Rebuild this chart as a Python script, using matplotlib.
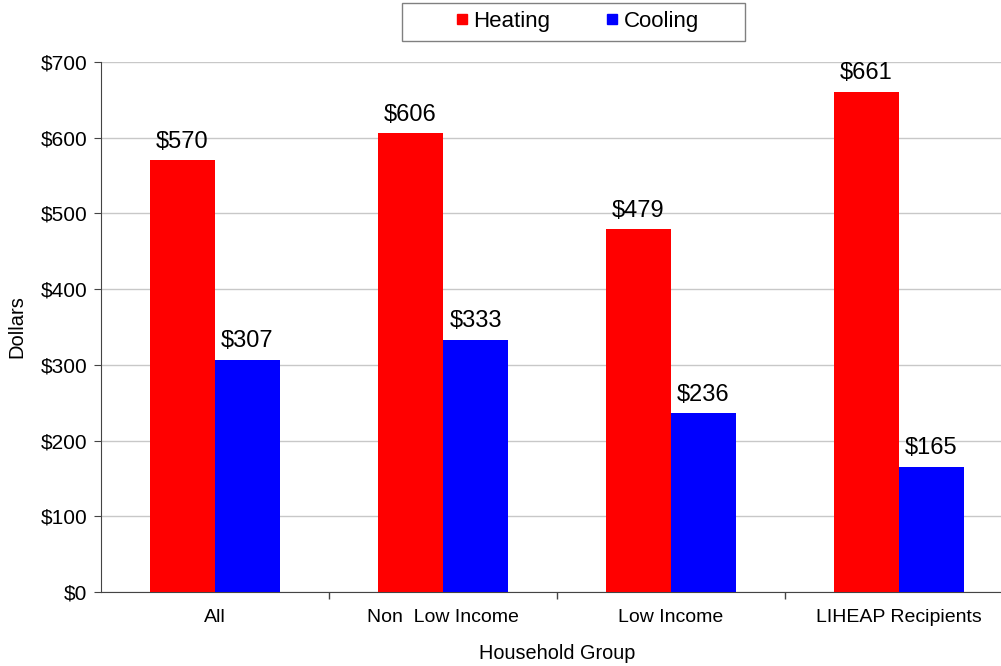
import matplotlib
matplotlib.use("Agg")
import matplotlib.pyplot as plt
import numpy as np
from matplotlib.lines import Line2D
from matplotlib.patches import Rectangle

plt.rcParams['font.family'] = ['Liberation Sans', 'DejaVu Sans']

groups = ["All", "Non  Low Income", "Low Income", "LIHEAP Recipients"]
heating = [570, 606, 479, 661]
cooling = [307, 333, 236, 165]
yticks = [0, 100, 200, 300, 400, 500, 600, 700]

W, H = 1001, 666
fig = plt.figure(figsize=(W/100, H/100), dpi=100)
ax = fig.add_axes([101/W, 1-592/H, 912/W, 530/H])

x = np.arange(len(groups))
bw = 0.285
ax.bar(x - bw/2, heating, bw, color="#FF0000", zorder=3)
ax.bar(x + bw/2, cooling, bw, color="#0000FF", zorder=3)
for xi, v in zip(x, heating):
    ax.annotate(f"${v}", (xi - bw/2, v), xytext=(0, 5.5), textcoords="offset points",
                ha="center", va="bottom", fontsize=17)
for xi, v in zip(x, cooling):
    ax.annotate(f"${v}", (xi + bw/2, v), xytext=(0, 5.5), textcoords="offset points",
                ha="center", va="bottom", fontsize=17)

ax.set_xlim(-0.5, len(groups) - 0.5)
ax.set_ylim(0, 700)
ax.set_yticks(yticks)
ax.set_yticklabels([f"${t}" for t in yticks], fontsize=15)
ax.set_xticks(x)
ax.set_xticklabels(groups, fontsize=14)
ax.tick_params(axis='x', length=0, pad=12)
ax.set_xticks(np.arange(0.5, len(groups) - 0.5, 1), minor=True)
ax.tick_params(axis='x', which='minor', length=5, color="#444444", width=1)
ax.tick_params(axis='y', length=5, color="#444444", pad=5)
ax.grid(axis='y', color="#C8C8C8", linewidth=1, zorder=0)
for s in ["top", "right"]:
    ax.spines[s].set_visible(False)
ax.spines["left"].set_color("#444444")
ax.spines["bottom"].set_color("#444444")
ax.set_ylabel("Dollars", fontsize=14.5, labelpad=10)
ax.set_xlabel("Household Group", fontsize=14.3, labelpad=13)

fig.patches.append(Rectangle((402/W, 1-41/H), 343/W, 38/H, transform=fig.transFigure,
                             facecolor="white", edgecolor="#808080", linewidth=1, zorder=5))
handles = [Line2D([], [], marker='s', color='w', markerfacecolor="#FF0000", markeredgecolor="#FF0000",
                  markersize=7.5, linestyle='None'),
           Line2D([], [], marker='s', color='w', markerfacecolor="#0000FF", markeredgecolor="#0000FF",
                  markersize=7.5, linestyle='None')]
leg = fig.legend(handles, ["Heating", "Cooling"], loc="center", bbox_to_anchor=(576/W, 1-21/H),
                 ncol=2, fontsize=16, frameon=False, handletextpad=0.1,
                 columnspacing=2.4, borderpad=0.3, handlelength=0.8)
leg.set_zorder(6)

fig.savefig("out.png", dpi=100)
